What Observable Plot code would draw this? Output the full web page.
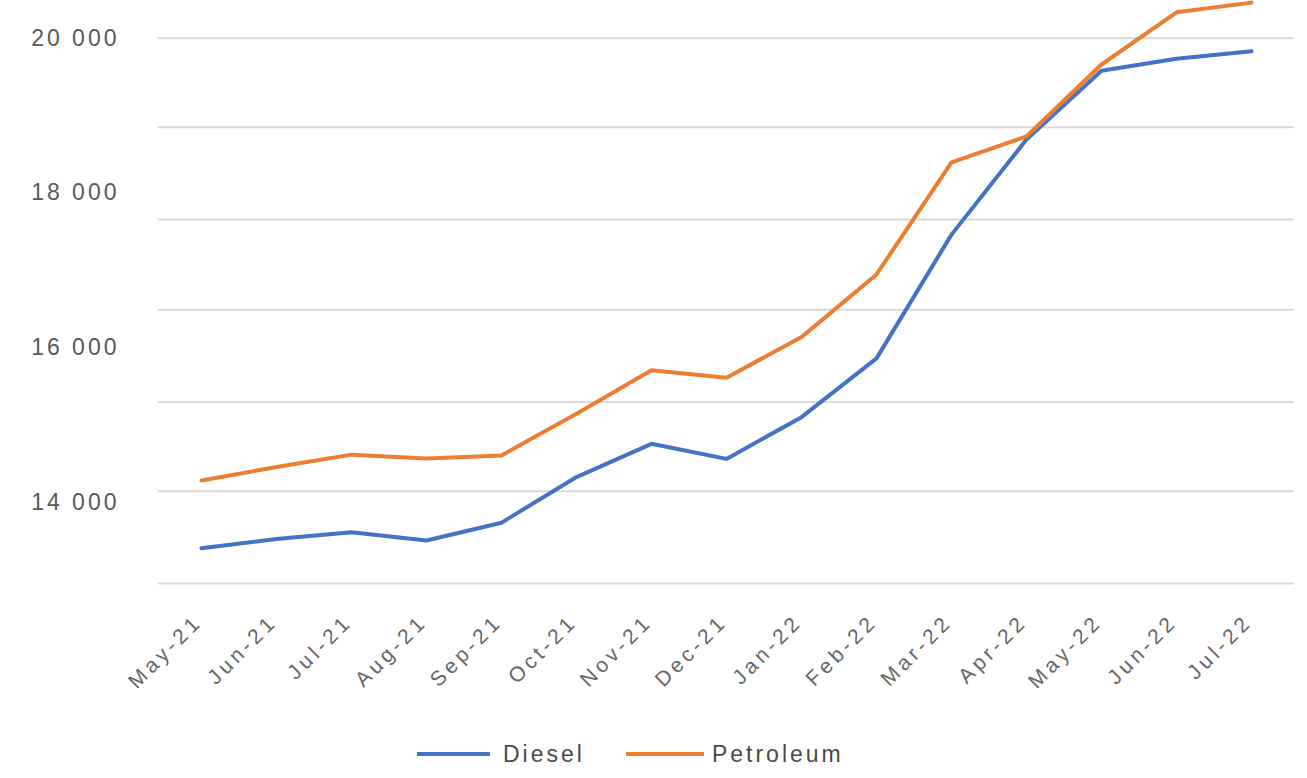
<!DOCTYPE html>
<html>
<head>
<meta charset="utf-8">
<script src="https://cdn.jsdelivr.net/npm/d3@7"></script>
<script src="https://cdn.jsdelivr.net/npm/@observablehq/plot@0.6"></script>
<style>
  html, body { margin: 0; padding: 0; background: #fff; }
  #chart { position: relative; width: 1307px; height: 778px; font-family: "Liberation Sans", Arial, sans-serif; }
  #chart svg { display: block; }
  .legend { position: absolute; left: 417px; top: 740px; height: 28px; display: flex; align-items: center;
            font-size: 23px; letter-spacing: 3px; color: #4a4a4a; white-space: nowrap; }
  .swatch { display: inline-block; height: 4px; }
</style>
</head>
<body>
<div id="chart"></div>
<script>
// Monthly prices, May 2021 – July 2022
const months = ["May-21", "Jun-21", "Jul-21", "Aug-21", "Sep-21", "Oct-21", "Nov-21", "Dec-21",
                "Jan-22", "Feb-22", "Mar-22", "Apr-22", "May-22", "Jun-22", "Jul-22"];
const diesel    = [13405, 13525, 13610, 13505, 13735, 14325, 14755, 14560,
                   15100, 15860, 17460, 18690, 19580, 19735, 19830];
const petroleum = [14280, 14455, 14615, 14565, 14605, 15145, 15705, 15610,
                   16135, 16945, 18395, 18730, 19660, 20335, 20460];
const seriesNames = ["Diesel", "Petroleum"];
const seriesColors = ["#4472C4", "#ED7D31"];

// Labelled axis values and horizontal grid levels
const yTicks = [14000, 16000, 18000, 20000];
const gridLevels = [12950, 14140, 15295, 16490, 17655, 18850, 20000];

const rows = months.flatMap((m, i) => [
  {month: m, series: seriesNames[0], value: diesel[i]},
  {month: m, series: seriesNames[1], value: petroleum[i]}
]);

const spaced = d => d3.format(",")(d).replace(/,/g, " ");

const chart = Plot.plot({
  width: 1307,
  height: 720,
  marginLeft: 158,
  marginRight: 13,
  marginTop: 0,
  marginBottom: 114,
  style: {fontFamily: "'Liberation Sans', Arial, sans-serif", color: "#595959", background: "transparent", overflow: "visible"},
  x: {type: "point", domain: months, padding: 0.5, label: null},
  y: {domain: [14000, 20000], range: [501.7, 37.7], label: null},
  color: {domain: seriesNames, range: seriesColors},
  marks: [
    Plot.ruleY(gridLevels, {stroke: "#d9d9d9", strokeWidth: 2}),
    Plot.axisY(yTicks, {tickSize: 0, tickPadding: 39, tickFormat: spaced, fontSize: 23, label: null}),
    Plot.axisX({tickSize: 0, tickPadding: 8, tickRotate: -45, fontSize: 21, dx: -3, dy: 4, fill: "#666", label: null}),
    Plot.line(rows, {x: "month", y: "value", z: "series", stroke: "series", strokeWidth: 4, strokeLinejoin: "round"})
  ]
});
d3.select(chart).selectAll("g[aria-label='y-axis tick label'] text").style("letter-spacing", "3px");
d3.select(chart).selectAll("g[aria-label='x-axis tick label'] text").style("letter-spacing", "4px");
document.getElementById("chart").appendChild(chart);

// Legend below the plot
const legend = document.createElement("div");
legend.className = "legend";
legend.innerHTML =
  `<span class="swatch" style="width:73px;background:${seriesColors[0]};margin-right:13px"></span>` +
  `<span>${seriesNames[0]}</span>` +
  `<span class="swatch" style="width:78px;background:${seriesColors[1]};margin-left:41px;margin-right:8px"></span>` +
  `<span>${seriesNames[1]}</span>`;
document.getElementById("chart").appendChild(legend);
</script>
</body>
</html>
